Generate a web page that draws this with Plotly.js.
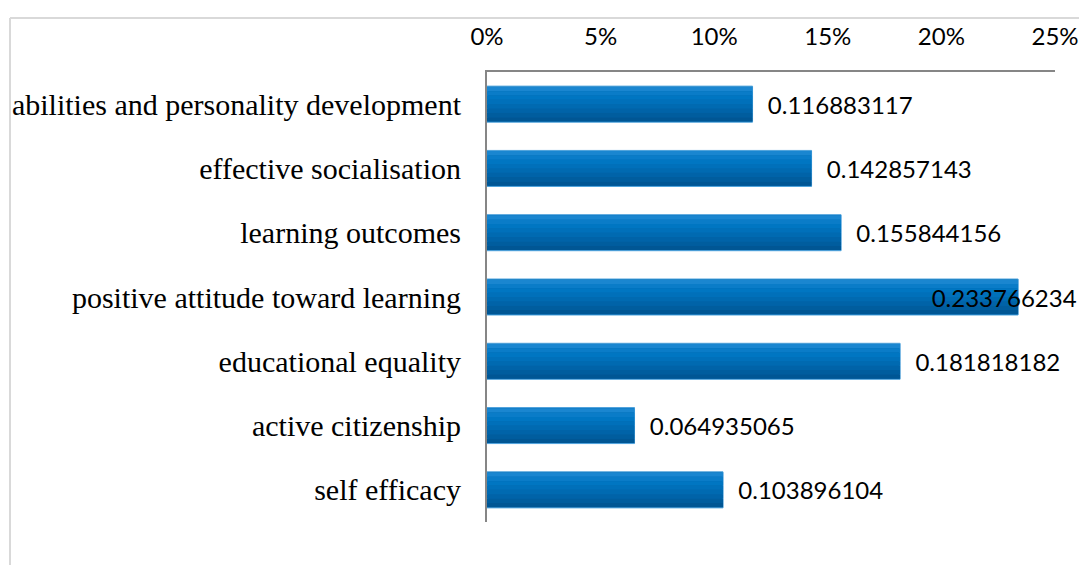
<!DOCTYPE html>
<html>
<head>
<meta charset="utf-8">
<script src="https://cdn.plot.ly/plotly-3.0.1.min.js"></script>
<style>html,body{margin:0;padding:0;background:#fff;}#chart{width:1079px;height:565px;}</style>
</head>
<body>
<div id="chart"></div>
<script>
const categories = [
  "abilities and personality development",
  "effective socialisation",
  "learning outcomes",
  "positive attitude toward learning",
  "educational equality",
  "active citizenship",
  "self efficacy"
];
const values = [0.116883117, 0.142857143, 0.155844156, 0.233766234, 0.181818182, 0.064935065, 0.103896104];
const valueLabels = ["0.116883117", "0.142857143", "0.155844156", "0.233766234", "0.181818182", "0.064935065", "0.103896104"];
const tickValues = [0, 0.05, 0.10, 0.15, 0.20, 0.25];
const tickLabels = ["0%", "5%", "10%", "15%", "20%", "25%"];

const barWidth = 0.56;
const labelClamp = 0.189; // labels are pulled back so they stay inside the chart area
const stripeColors = ["#1a86d0", "#0a7cc8", "#0076c2", "#0070ba", "#006ab1", "#0063a8", "#005d9e", "#005694"];
const traces = [];
traces.push({
  type: "bar", orientation: "h", y: categories, x: values,
  width: barWidth, marker: {color: "#006ab1", line: {color: "#4fa3dc", width: 1}},
  hoverinfo: "skip", showlegend: false
});
const n = stripeColors.length;
const sw = (barWidth - 0.02) / n;
stripeColors.forEach((c, i) => {
  traces.push({
    type: "bar", orientation: "h", y: categories, x: values,
    width: sw, offset: -barWidth / 2 + 0.01 + i * sw,
    marker: {color: c, line: {width: 0}},
    hoverinfo: "skip", showlegend: false
  });
});
traces.push({
  type: "bar", orientation: "h", y: categories,
  x: values.map(v => Math.min(v, labelClamp)),
  width: barWidth, marker: {color: "rgba(0,0,0,0)", line: {width: 0}},
  text: valueLabels,
  texttemplate: "  %{text}",
  textposition: "outside", cliponaxis: false, constraintext: "none",
  textfont: {family: "Lato, 'Open Sans', sans-serif", size: 24, color: "#000"},
  hoverinfo: "skip", showlegend: false
});

const layout = {
  width: 1079, height: 565,
  margin: {l: 487, r: 24, t: 72, b: 43},
  paper_bgcolor: "#fff", plot_bgcolor: "#fff",
  barmode: "overlay",
  showlegend: false,
  xaxis: {
    side: "top", range: [0, 0.25],
    tickvals: tickValues, ticktext: tickLabels,
    showgrid: false, zeroline: false,
    showline: true, linecolor: "#868686", linewidth: 2,
    ticks: "", ticklen: 0, ticklabelstandoff: 15,
    tickfont: {family: "Lato, 'Open Sans', sans-serif", size: 24, color: "#000"},
    automargin: false
  },
  yaxis: {
    type: "category", autorange: "reversed",
    showgrid: false, zeroline: false,
    showline: true, linecolor: "#868686", linewidth: 2,
    ticks: "", ticklabelstandoff: 18,
    tickfont: {family: "'Liberation Serif', serif", size: 30, color: "#000"},
    automargin: false
  },
  shapes: [
    {type: "line", xref: "paper", yref: "paper", x0: -0.8398, x1: -0.8398, y0: 1.12, y1: -0.2, line: {color: "#d9d9d9", width: 2}},
    {type: "line", xref: "paper", yref: "paper", x0: -0.8398, x1: 1.1, y0: 1.12, y1: 1.12, line: {color: "#d9d9d9", width: 2}}
  ]
};
Plotly.newPlot("chart", traces, layout, {displayModeBar: false, staticPlot: true});
</script>
</body>
</html>
